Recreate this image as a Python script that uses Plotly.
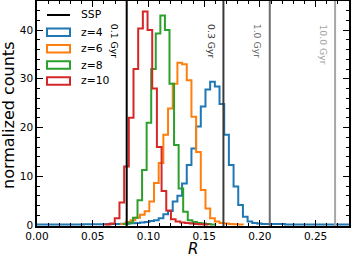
import plotly.graph_objects as go

# ---------------- data ----------------
# SSP reference values (R) and labels
ssp_R = [0.0805, 0.1673, 0.2089, 0.2675]
ssp_labels = ["0.1 Gyr", "0.3 Gyr", "1.0 Gyr", "10.0 Gyr"]
ssp_colors = ["#000000", "#3a3a3a", "#6e6e6e", "#a6a6a6"]

# histogram bins: start, width ; counts per bin
z4_start, z4_width = 0.0, 0.0042
z4_counts = [0.1]*10 + [0.15]*5 + [0.2]*3 + [0.25, 0.3, 0.35, 0.4,
             0.5, 0.6, 0.8, 1.0, 1.4, 2.2, 2.9, 4.8, 6.0, 8.5,
             12.3, 15.7, 20.2, 24.3, 27.8, 29.4, 28.4, 24.8, 18.5, 12.3,
             7.9, 4.1, 1.7, 0.7, 0.4, 0.3, 0.2, 0.2, 0.2, 0.2, 0.2] + [0.1]*14

z6_start, z6_width = 0.0756, 0.0042
z6_counts = [0.2, 0.6, 1.0, 1.5, 2.1, 2.8, 4.8, 8.6, 12.7, 18.5, 23.9, 29.0,
             33.3, 33.0, 29.7, 22.2, 15.0, 7.2, 3.4, 1.4, 0.7, 0.4, 0.3,
             0.2, 0.15, 0.1]

z8_start, z8_width = 0.0779, 0.0041
z8_counts = [0.2, 0.5, 1.5, 5.1, 11.3, 21.0, 32.0, 39.3, 43.0, 40.0, 29.0,
             16.4, 7.5, 2.7, 1.0, 0.6, 0.4, 0.3, 0.2, 0.1]

z10_start, z10_width = 0.0614, 0.0042
z10_counts = [0.1, 0.3, 1.4, 4.6, 12.0, 22.0, 32.0, 40.3, 43.8, 40.0, 28.0,
              16.0, 7.0, 3.0, 1.2, 0.7, 0.5, 0.4, 0.3, 0.2, 0.15, 0.1]

series_names = ["z=4", "z=6", "z=8", "z=10"]
series_colors = ["#1f77b4", "#ff7f0e", "#2ca02c", "#d62728"]
series = list(zip(series_names, series_colors,
                  [z4_start, z6_start, z8_start, z10_start],
                  [z4_width, z6_width, z8_width, z10_width],
                  [z4_counts, z6_counts, z8_counts, z10_counts]))

x_range = [0.0, 0.28]
y_range = [-0.2, 45.95]

# ---------------- figure ----------------
FONT = "DejaVu Sans"
W, H = 351, 260
ML, MR, MT, MB = 37, 2, 1, 34
PW, PH = W - ML - MR, H - MT - MB


def px2paper(px, py):
    return (px - ML) / PW, (H - MB - py) / PH


fig = go.Figure()

for name, color, start, width, counts in series:
    edges = [start + i * width for i in range(len(counts) + 1)]
    xs = [edges[0]] + edges[:-1] + [edges[-1]]
    ys = [0] + list(counts) + [0]
    fig.add_trace(go.Scatter(x=xs, y=ys, mode="lines", line_shape="hv",
                             line=dict(color=color, width=2),
                             name=name, showlegend=False, hoverinfo="skip"))

for r, lab, col in zip(ssp_R, ssp_labels, ssp_colors):
    fig.add_shape(type="line", xref="x", yref="paper", x0=r, x1=r, y0=0, y1=1,
                  line=dict(color=col, width=2))
    fig.add_annotation(x=r, xref="x", y=px2paper(0, 22)[1], yref="paper",
                       text=lab, textangle=90, showarrow=False,
                       xanchor="right", yanchor="top", xshift=-4,
                       font=dict(family=FONT, size=9.3, color=col))

# ---- legend (drawn in paper coordinates) ----
leg_x0, leg_x1, leg_tx = 47, 70, 79
leg_rows = [15, 32.3, 48.8, 65, 81]
x0p, _ = px2paper(leg_x0, 0)
x1p, _ = px2paper(leg_x1, 0)
txp, _ = px2paper(leg_tx, 0)
_, yp = px2paper(0, leg_rows[0])
fig.add_shape(type="line", xref="paper", yref="paper", x0=x0p, x1=x1p,
              y0=yp, y1=yp, line=dict(color="black", width=2))
fig.add_annotation(x=txp, y=yp, xref="paper", yref="paper", text="SSP",
                   showarrow=False, xanchor="left", yanchor="middle",
                   font=dict(family=FONT, size=10.8, color="black"))
for row, name, color in zip(leg_rows[1:], series_names, series_colors):
    _, ya = px2paper(0, row - 3.8)
    _, yb = px2paper(0, row + 3.8)
    _, yc = px2paper(0, row)
    fig.add_shape(type="rect", xref="paper", yref="paper", x0=x0p, x1=x1p,
                  y0=yb, y1=ya, line=dict(color=color, width=2),
                  fillcolor="rgba(0,0,0,0)")
    fig.add_annotation(x=txp, y=yc, xref="paper", yref="paper", text=name,
                       showarrow=False, xanchor="left", yanchor="middle",
                       font=dict(family=FONT, size=10.8, color="black"))

# ---- axis titles ----
tx, ty = px2paper(9, 116)
fig.add_annotation(x=tx, y=ty, xref="paper", yref="paper",
                   text="normalized counts", textangle=-90, showarrow=False,
                   xanchor="center", yanchor="middle",
                   font=dict(family=FONT, size=16, color="black"))
tx, ty = px2paper(193, 249.5)
fig.add_annotation(x=tx, y=ty, xref="paper", yref="paper", text="<i>R</i>",
                   showarrow=False, xanchor="center", yanchor="middle",
                   borderpad=0,
                   font=dict(family=FONT, size=15, color="black"))

axis_common = dict(showline=True, linecolor="black", linewidth=1.6,
                   mirror="ticks", ticks="inside", ticklen=6, tickwidth=1.3,
                   tickcolor="black", showgrid=False, zeroline=False,
                   automargin=False,
                   tickfont=dict(family=FONT, size=10.5, color="black"))

fig.update_xaxes(range=x_range, dtick=0.05, tickformat=".2f",
                 minor=dict(dtick=0.01, ticks="inside", ticklen=3.5,
                            tickwidth=1.1, tickcolor="black"),
                 **axis_common)
fig.update_yaxes(range=y_range, dtick=10,
                 minor=dict(dtick=2, ticks="inside", ticklen=3.5,
                            tickwidth=1.1, tickcolor="black"),
                 **axis_common)

fig.update_layout(
    width=W, height=H,
    margin=dict(l=ML, r=MR, t=MT, b=MB, autoexpand=False),
    plot_bgcolor="white", paper_bgcolor="white",
    font=dict(family=FONT, color="black"),
    showlegend=False,
)

fig.write_html("out.html", config={"displayModeBar": False},
               post_script="document.body.style.margin='0';"
                           "document.body.style.overflow='hidden';")
